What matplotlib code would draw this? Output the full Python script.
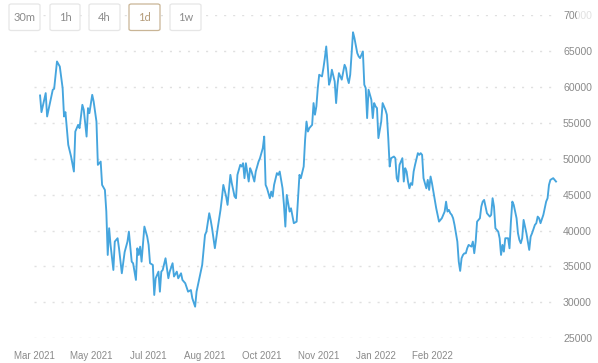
import numpy as np
import pandas as pd
import matplotlib
matplotlib.use("Agg")
import matplotlib.pyplot as plt
from matplotlib.patches import FancyBboxPatch, Rectangle

plt.rcParams['font.family'] = ['Liberation Sans', 'DejaVu Sans']

# daily price (days since 2021-04-02)
start = pd.Timestamp('2021-04-02')
day = [0, 1, 4, 5, 7, 9, 10, 12, 14, 16, 17, 18, 20, 22, 24, 25, 27, 28, 30, 31,
       33, 34, 35, 37, 38, 40, 41, 43, 44, 46, 47, 48, 49, 50, 52, 53, 55, 56, 58, 60,
       62, 63, 65, 66, 68, 69, 70, 71, 72, 74, 76, 77, 78, 80, 81, 82, 84, 85, 86, 87,
       89, 91, 92, 94, 95, 97, 98, 100, 101, 103, 105, 107, 108, 110, 111, 113, 115, 117, 118, 120,
       121, 122, 124, 126, 128, 129, 130, 132, 133, 135, 136, 138, 139, 140, 142, 143, 144, 145, 146, 148,
       149, 150, 152, 153, 155, 156, 158, 159, 160, 161, 163, 164, 165, 166, 168, 169, 170, 172, 173, 174,
       175, 177, 178, 180, 182, 184, 185, 187, 188, 189, 190, 191, 193, 194, 195, 196, 197, 198, 200, 201,
       202, 203, 204, 205, 206, 207, 209, 210, 211, 212, 213, 214, 216, 217, 218, 219, 220, 222, 223, 225,
       226, 227, 229, 230, 231, 232, 233, 235, 236, 237, 238, 239, 240, 242, 243, 244, 245, 246, 247, 248,
       249, 251, 252, 253, 254, 255, 257, 258, 259, 260, 261, 262, 263, 264, 265, 266, 268, 269, 270, 271,
       272, 274, 275, 276, 277, 278, 279, 281, 282, 283, 284, 285, 287, 288, 289, 290, 291, 292, 293, 294,
       296, 297, 298, 299, 300, 301, 302, 303, 304, 306, 307, 308, 309, 310, 312, 313, 314, 315, 316, 317,
       319, 320, 321, 322, 323, 325, 326, 327, 328, 329, 330, 332, 333, 334, 335, 336, 338, 339, 340, 341,
       342, 343, 345, 346, 347, 348, 349, 351, 352, 353, 354, 355, 357, 358, 359, 360, 361, 362, 364, 365,
       366]
price = [58800, 56480, 59130, 55870, 57740, 59590, 59730, 63530, 62830, 59830, 55870, 56480, 51930, 50300, 48210, 53780, 54710, 54250, 57500, 56800,
         53080, 57040, 56340, 58890, 57970, 55170, 49140, 49600, 46350, 45650, 42640, 36600, 40320, 38000, 34510, 38460, 38930, 37530, 34050, 37000,
         38460, 39850, 35670, 35440, 33120, 37530, 36600, 37760, 35670, 40550, 39150, 38000, 35450, 35210, 31030, 33350, 34280, 31490, 34280, 34510,
         36140, 33360, 34280, 35450, 33600, 34280, 33350, 34050, 33120, 32660, 31490, 31720, 30570, 29400, 31490, 33350, 35210, 39390, 39850, 42410,
         41480, 40320, 37540, 40320, 42870, 44500, 46350, 44730, 43570, 47750, 46590, 44730, 44500, 47750, 49140, 48910, 49370, 47290, 49370, 46820,
         48680, 48210, 46820, 48210, 49600, 50070, 51470, 53080, 46350, 45880, 44500, 45420, 44730, 46350, 47990, 47750, 48210, 45880, 43570, 40550,
         44960, 42640, 43100, 41020, 41240, 47750, 47290, 48910, 52630, 55170, 53780, 54250, 54710, 57740, 56120, 57280, 59830, 61680, 61450, 62610,
         64000, 65620, 63070, 60290, 61000, 62380, 60750, 57740, 60290, 61910, 61450, 61000, 63070, 62610, 61220, 60520, 61680, 67600, 66790, 64700,
         64240, 64000, 64930, 60290, 59830, 55650, 59600, 58200, 55650, 57740, 57280, 57040, 52860, 55170, 57740, 57280, 56800, 56120, 52860, 48910,
         50070, 50300, 50070, 47290, 46820, 49140, 50070, 46820, 48680, 48210, 46820, 45880, 46590, 46350, 48210, 49140, 50770, 50530, 50770, 50530,
         47290, 45880, 47050, 45650, 47520, 46590, 45420, 43110, 42180, 41240, 41480, 41710, 42640, 44020, 42640, 42870, 42410, 42180, 41710, 40780,
         38460, 35670, 34380, 36140, 36600, 36830, 36830, 37530, 38000, 37760, 38460, 36840, 38460, 41240, 41710, 43330, 44030, 44260, 43330, 42410,
         41940, 42180, 44500, 43330, 40320, 39850, 38930, 36600, 38000, 37060, 38930, 38930, 37530, 41240, 44030, 43570, 41710, 39620, 38700, 38230,
         38930, 41480, 39620, 38460, 37300, 39150, 39620, 40780, 41020, 41940, 41710, 41020, 42180, 43100, 44030, 44500, 46350, 47050, 47290, 47050,
         46820]

tick_labels = ['Mar 2021', 'May 2021', 'Jul 2021', 'Aug 2021',
               'Oct 2021', 'Nov 2021', 'Jan 2022', 'Feb 2022']
y_ticks = [25000, 30000, 35000, 40000, 45000, 50000, 55000, 60000, 65000, 70000]
buttons = ['30m', '1h', '4h', '1d', '1w']
active = '1d'

W, H = 598, 363
fig = plt.figure(figsize=(W / 100, H / 100), dpi=100)
fig.patch.set_facecolor('white')

# plot area in pixels: x 34..558, y 15..338
ax = fig.add_axes([34 / W, (H - 338.3) / H, (558 - 34) / W, 323.3 / H])
dates = start + pd.to_timedelta(day, unit='D')
ax.plot(dates, price, color='#45a5de', lw=1.35, solid_joinstyle='round', clip_on=False, zorder=3)

ax.set_xlim(start + pd.Timedelta(days=-4.26), start + pd.Timedelta(days=367.4))
ax.set_ylim(25000, 70000)

tick_pos = [start + pd.Timedelta(days=-4.3 + 40.4 * i) for i in range(len(tick_labels))]
ax.set_xticks(tick_pos)
ax.set_xticklabels(tick_labels)
ax.set_yticks(y_ticks)
ax.set_yticklabels([str(v) for v in y_ticks])
ax.yaxis.tick_right()
ax.tick_params(axis='y', length=0, pad=3.6, labelsize=7.6, labelcolor='#8a8a8a')
ax.tick_params(axis='x', length=0, pad=9.5, labelsize=7.0, labelcolor='#8a8a8a')
for s in ax.spines.values():
    s.set_visible(False)
ax.grid(axis='y', color='#e0e0e0', lw=1.0, linestyle=(0, (1.5, 5)))
ax.set_axisbelow(True)

# fade over the top right label
fig.patches.append(Rectangle((577 / W, (H - 24) / H), 21 / W, 18 / H,
                             transform=fig.transFigure, facecolor='white',
                             edgecolor='none', alpha=0.75))

# interval buttons
bx = [9, 50, 89, 129, 170]
bw = [31, 30, 31, 31, 31]
for lab, x0, w in zip(buttons, bx, bw):
    on = lab == active
    box = FancyBboxPatch((x0 / W, (H - 30.5) / H), w / W, 26.5 / H,
                         boxstyle='round,pad=0,rounding_size=0.004',
                         transform=fig.transFigure,
                         facecolor='white',
                         edgecolor='#c9b596' if on else '#e6e6e6', lw=0.9)
    fig.patches.append(box)
    fig.text((x0 + w / 2) / W, (H - 17.5) / H, lab, ha='center', va='center',
             fontsize=8.0, color='#b49c7a' if on else '#8c8c8c', family=['Lato', 'DejaVu Sans'])

fig.savefig('out.png', dpi=100)
